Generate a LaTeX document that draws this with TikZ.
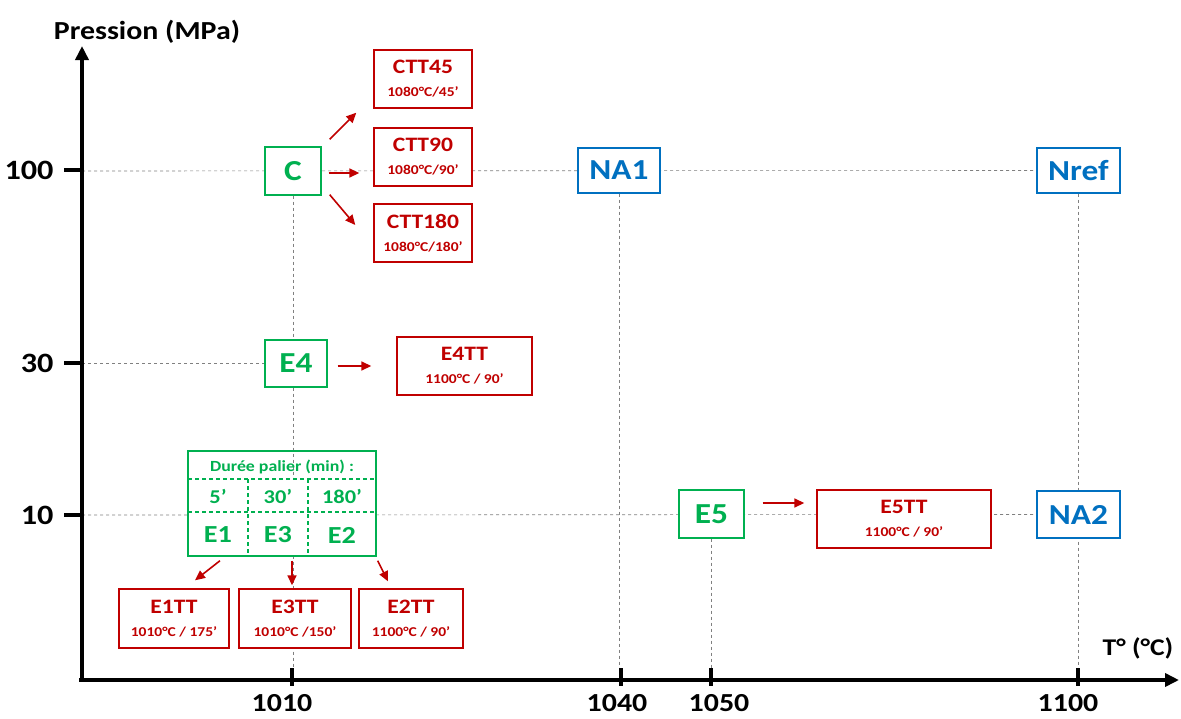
\documentclass[tikz,border=0pt]{standalone}
\usepackage{fontspec}
\setmainfont{Carlito}[FakeStretch=1.15]
\usetikzlibrary{arrows.meta,calc}
\definecolor{cgreen}{RGB}{0,176,80}
\definecolor{cred}{RGB}{192,0,0}
\definecolor{cblue}{RGB}{0,112,192}
\newcommand{\fs}[1]{\fontsize{#1}{#1}\selectfont}
\begin{document}
\begin{tikzpicture}[x=1pt,y=-1pt,font=\bfseries,
  gbox/.style={draw=cgreen,line width=1.4pt,fill=white,text=cgreen,font=\bfseries\fs{29},inner sep=0pt},
  bbox/.style={draw=cblue,line width=1.4pt,fill=white,text=cblue,font=\bfseries\fs{29},inner sep=0pt},
  rbox/.style={draw=cred,line width=1.4pt,fill=white,text=cred,align=center,inner sep=0pt},
  gridl/.style={draw=gray,line width=0.6pt,dash pattern=on 3pt off 3pt},
  rarr/.style={draw=cred,line width=1.6pt,-{Triangle[length=10pt,width=9pt]}},
  axisl/.style={line width=4pt,-{Triangle[length=14pt,width=13pt]}},
  tickl/.style={line width=4pt},
  tdash/.style={draw=cgreen,line width=1.2pt,dash pattern=on 4pt off 3pt}]
\useasboundingbox (0,0) rectangle (1181,718);
\fill[white] (0,0) rectangle (1181,718);
% axes coordinates
\coordinate (O) at (82,680);
\coordinate (ytip) at (82,46);
\coordinate (xtip) at (1179,680);
% boxes
\node[gbox,minimum width=56pt,minimum height=48pt] (C) at (293,171) {C};
\node[bbox,minimum width=82pt,minimum height=45pt] (NA1) at (619,170.5) {NA1};
\node[bbox,minimum width=83pt,minimum height=45pt] (Nref) at (1078.5,170.5) {Nref};
\node[gbox,minimum width=62pt,minimum height=47pt] (E4) at (296,363.5) {E4};
\node[gbox,minimum width=65pt,minimum height=48pt] (E5) at (711.5,514) {E5};
\node[bbox,minimum width=83pt,minimum height=47pt] (NA2) at (1078.5,514.5) {NA2};
% grid lines
\draw[gridl] (O |- C) -- (Nref.west);
\draw[gridl] (O |- E4) -- (E4.west);
\draw[gridl] (82,515) coordinate (h10) -- (NA2.west);
\draw[gridl] (C.south) -- (C.south |- O);
\draw[gridl] (NA1.south) -- (NA1.south |- O);
\draw[gridl] (E5.south) -- (E5.south |- O);
\draw[gridl] (Nref.south) -- (Nref.south |- O);
% redraw boxes on top of grid
\node[gbox,minimum width=56pt,minimum height=48pt] at (C) {C};
\node[bbox,minimum width=82pt,minimum height=45pt] at (NA1) {NA1};
\node[bbox,minimum width=83pt,minimum height=45pt] at (Nref) {Nref};
\node[gbox,minimum width=62pt,minimum height=47pt] at (E4) {E4};
\node[gbox,minimum width=65pt,minimum height=48pt] at (E5) {E5};
\node[bbox,minimum width=83pt,minimum height=47pt] at (NA2) {NA2};
% red boxes
\node[rbox,minimum width=98pt,minimum height=58pt] (CTT45) at (423,79) {{\fs{20.5}CTT45}\\[11pt]{\fs{13.5}1080°C/45’}};
\node[rbox,minimum width=98pt,minimum height=58pt] (CTT90) at (423,157) {{\fs{20.5}CTT90}\\[11pt]{\fs{13.5}1080°C/90’}};
\node[rbox,minimum width=98pt,minimum height=58pt] (CTT180) at (423,233) {{\fs{20.5}CTT180}\\[11pt]{\fs{13.5}1080°C/180’}};
\node[rbox,minimum width=135pt,minimum height=58pt] (E4TT) at (464.5,366) {{\fs{20.5}E4TT}\\[11pt]{\fs{13.5}1100°C / 90’}};
\node[rbox,minimum width=174pt,minimum height=58pt] (E5TT) at (904,519) {{\fs{20.5}E5TT}\\[11pt]{\fs{13.5}1100°C / 90’}};
\node[rbox,minimum width=110pt,minimum height=59pt] (E1TT) at (174,618.5) {{\fs{20.5}E1TT}\\[11pt]{\fs{13.5}1010°C / 175’}};
\node[rbox,minimum width=112pt,minimum height=59pt] (E3TT) at (295,618.5) {{\fs{20.5}E3TT}\\[11pt]{\fs{13.5}1010°C /150’}};
\node[rbox,minimum width=104pt,minimum height=59pt] (E2TT) at (411,618.5) {{\fs{20.5}E2TT}\\[11pt]{\fs{13.5}1100°C / 90’}};
% table
\fill[white] (188,479) rectangle (376,556);
\node[draw=cgreen,line width=1.4pt,inner sep=0pt,minimum width=188pt,minimum height=105pt] (tbl) at (282,503.5) {};
\draw[tdash] (188,479) -- (376,479);
\draw[tdash] (188,512) -- (376,512);
\draw[tdash] (248,479) -- (248,556);
\draw[tdash] (308,479) -- (308,556);
\node[text=cgreen,font=\bfseries\fs{15.5}] (ttl) at (282,467) {Durée palier (min) :};
\node[text=cgreen,font=\bfseries\fs{19.5}] (m5) at (218,496) {5’};
\node[text=cgreen,font=\bfseries\fs{19.5}] (m30) at (278,496) {30’};
\node[text=cgreen,font=\bfseries\fs{19.5}] (m180) at (342,496) {180’};
\node[text=cgreen,font=\bfseries\fs{24.5}] (E1) at (218,535) {E1};
\node[text=cgreen,font=\bfseries\fs{24.5}] (E3) at (278,535) {E3};
\node[text=cgreen,font=\bfseries\fs{24.5}] (E2) at (342,535) {E2};
% red arrows
\draw[rarr] ([shift={(8,-7)}]C.north east) -- ([shift={(-17,4)}]CTT45.south west);
\draw[rarr] ([shift={(7,2)}]C.east) -- ([shift={(-14,16)}]CTT90.west);
\draw[rarr] ([shift={(8,-1)}]C.south east) -- ([shift={(-18,-8)}]CTT180.west);
\draw[rarr] ([shift={(10,2.5)}]E4.east) -- ([shift={(-25,0)}]E4TT.west);
\draw[rarr] ([shift={(18,-11)}]E5.east) -- ([shift={(-12,-16)}]E5TT.west);
\draw[rarr] ([shift={(-62,4)}]tbl.south) -- ([shift={(21,-8)}]E1TT.north);
\draw[rarr] ([shift={(10,4)}]tbl.south) -- ([shift={(-3,-3)}]E3TT.north);
\draw[rarr] ([shift={(1,4)}]tbl.south east) -- ([shift={(-23,-7)}]E2TT.north);
% axes
\draw[axisl] (O) -- (ytip);
\draw[axisl] ([xshift=-3pt]O) -- (xtip);
\draw[tickl] (64,170) -- (82,170);
\draw[tickl] (64,363) -- (82,363);
\draw[tickl] (64,515) -- (82,515);
\draw[tickl] (292,668) -- (292,686);
\draw[tickl] (621,668) -- (621,686);
\draw[tickl] (711,668) -- (711,686);
\draw[tickl] (1078,668) -- (1078,686);
\node[font=\bfseries\fs{28},anchor=east] (l100) at (57,170) {100};
\node[font=\bfseries\fs{28},anchor=east] (l30) at (57,363) {30};
\node[font=\bfseries\fs{28},anchor=east] (l10) at (57,515) {10};
\node[font=\bfseries\fs{26}] (t1010) at (282,703) {1010};
\node[font=\bfseries\fs{26}] (t1040) at (617,703) {1040};
\node[font=\bfseries\fs{26}] (t1050) at (719,703) {1050};
\node[font=\bfseries\fs{26}] (t1100) at (1068,703) {1100};
\node[font=\bfseries\fs{26},anchor=base] (ylab) at (147,39) {Pression (MPa)};
\node[font=\bfseries\fs{24},anchor=base] (xlab) at (1138,655) {T° (°C)};
\end{tikzpicture}
\end{document}
